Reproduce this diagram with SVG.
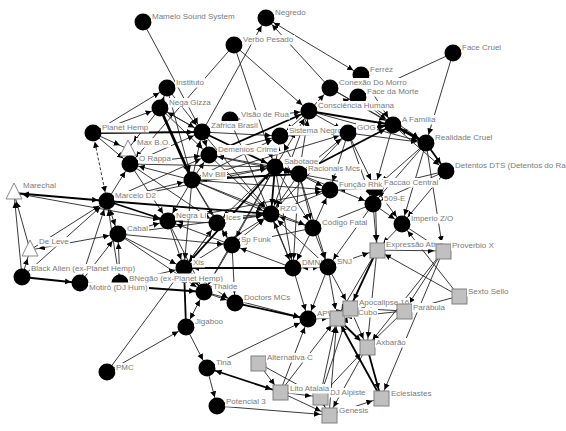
<svg xmlns="http://www.w3.org/2000/svg" width="566" height="431" viewBox="0 0 566 431">
<style>
.e{stroke:#222;stroke-width:0.9;fill:none;marker-end:url(#a)}
.b{marker-start:url(#a)}
.m{stroke:#000;stroke-width:1.8}
.k{stroke:#000;stroke-width:2.8}
.d{stroke-dasharray:3 2}
.c{fill:#000}
.s{fill:#c0c0c0;stroke:#808080;stroke-width:1}
.t{fill:#fff;stroke:#888;stroke-width:1}
.lb{fill:#fff}
text{font-family:"Liberation Sans",Arial,sans-serif;font-size:8px;fill:#7a7a7a}
</style>
<defs>
<marker id="a" markerWidth="20" markerHeight="8" refX="15" refY="3" orient="auto-start-reverse" markerUnits="userSpaceOnUse"><path d="M0,0L6,3L0,6z" fill="#000"/></marker>
</defs>
<rect width="566" height="431" fill="#fff"/>
<g id="edges">
<line class="e" x1="143" y1="22" x2="202" y2="132"/>
<line class="e" x1="330" y1="88" x2="266" y2="18"/>
<line class="e" x1="202" y1="132" x2="266" y2="18"/>
<line class="e" x1="234" y1="45" x2="130" y2="164"/>
<line class="e" x1="234" y1="45" x2="275" y2="167"/>
<line class="e" x1="234" y1="45" x2="309" y2="111"/>
<line class="e" x1="453" y1="53" x2="426" y2="143"/>
<line class="e" x1="453" y1="53" x2="358" y2="97"/>
<line class="e" x1="93" y1="133" x2="167" y2="88"/>
<line class="e" x1="93" y1="133" x2="128" y2="149"/>
<line class="e" x1="160" y1="108" x2="128" y2="149"/>
<line class="e" x1="93" y1="133" x2="160" y2="108"/>
<line class="e b" x1="14" y1="193" x2="168" y2="221"/>
<line class="e" x1="22" y1="277" x2="14" y2="193"/>
<line class="e" x1="22" y1="277" x2="30" y2="250"/>
<line class="e" x1="30" y1="250" x2="14" y2="193"/>
<line class="e" x1="30" y1="250" x2="107" y2="201"/>
<line class="e b" x1="118" y1="234" x2="30" y2="250"/>
<line class="e" x1="22" y1="277" x2="107" y2="201"/>
<line class="e" x1="80" y1="283" x2="107" y2="201"/>
<line class="e" x1="80" y1="283" x2="118" y2="234"/>
<line class="e" x1="120" y1="283" x2="107" y2="201"/>
<line class="e" x1="120" y1="283" x2="118" y2="234"/>
<line class="e" x1="120" y1="283" x2="184" y2="268"/>
<line class="e b" x1="118" y1="234" x2="107" y2="201"/>
<line class="e" x1="107" y1="201" x2="130" y2="164"/>
<line class="e" x1="107" y1="201" x2="192" y2="180"/>
<line class="e" x1="107" y1="201" x2="209" y2="155"/>
<line class="e" x1="107" y1="201" x2="275" y2="167"/>
<line class="e" x1="118" y1="234" x2="184" y2="268"/>
<line class="e" x1="118" y1="234" x2="168" y2="221"/>
<line class="e" x1="118" y1="234" x2="204" y2="292"/>
<line class="e" x1="118" y1="234" x2="232" y2="245"/>
<line class="e" x1="118" y1="234" x2="271" y2="214"/>
<line class="e" x1="107" y1="372" x2="186" y2="327"/>
<line class="e" x1="107" y1="372" x2="217" y2="223"/>
<line class="e b" x1="186" y1="327" x2="204" y2="292"/>
<line class="e" x1="186" y1="327" x2="207" y2="368"/>
<line class="e" x1="207" y1="368" x2="217" y2="406"/>
<line class="e" x1="207" y1="368" x2="308" y2="319"/>
<line class="e" x1="217" y1="406" x2="329" y2="415"/>
<line class="e" x1="258" y1="363" x2="280" y2="392"/>
<line class="e" x1="280" y1="392" x2="329" y2="415"/>
<line class="e" x1="280" y1="392" x2="320" y2="397"/>
<line class="e" x1="320" y1="397" x2="329" y2="415"/>
<line class="e" x1="280" y1="392" x2="308" y2="319"/>
<line class="e" x1="258" y1="363" x2="320" y2="397"/>
<line class="e" x1="459" y1="296" x2="404" y2="311"/>
<line class="e" x1="459" y1="296" x2="402" y2="224"/>
<line class="e" x1="459" y1="296" x2="377" y2="250"/>
<line class="e" x1="377" y1="250" x2="443" y2="251"/>
<line class="e" x1="426" y1="143" x2="443" y2="251"/>
<line class="e" x1="402" y1="224" x2="443" y2="251"/>
<line class="e" x1="443" y1="251" x2="381" y2="398"/>
<line class="e" x1="443" y1="251" x2="404" y2="311"/>
<line class="e" x1="443" y1="251" x2="367" y2="347"/>
<line class="e b" x1="350" y1="308" x2="337" y2="318"/>
<line class="e" x1="350" y1="308" x2="367" y2="347"/>
<line class="e" x1="367" y1="347" x2="329" y2="415"/>
<line class="e" x1="320" y1="397" x2="350" y2="308"/>
<line class="e" x1="320" y1="397" x2="337" y2="318"/>
<line class="e" x1="329" y1="415" x2="337" y2="318"/>
<line class="e" x1="280" y1="392" x2="337" y2="318"/>
<line class="e" x1="404" y1="311" x2="337" y2="318"/>
<line class="e" x1="404" y1="311" x2="350" y2="308"/>
<line class="e" x1="404" y1="311" x2="367" y2="347"/>
<line class="e" x1="377" y1="250" x2="337" y2="318"/>
<line class="e" x1="377" y1="250" x2="367" y2="347"/>
<line class="e" x1="308" y1="319" x2="337" y2="318"/>
<line class="e" x1="328" y1="267" x2="377" y2="250"/>
<line class="e" x1="328" y1="267" x2="350" y2="308"/>
<line class="e" x1="328" y1="267" x2="308" y2="319"/>
<line class="e" x1="328" y1="267" x2="337" y2="318"/>
<line class="e" x1="293" y1="268" x2="308" y2="319"/>
<line class="e" x1="329" y1="415" x2="381" y2="398"/>
<line class="e" x1="320" y1="397" x2="367" y2="347"/>
<line class="e b" x1="308" y1="319" x2="350" y2="308"/>
<line class="e" x1="204" y1="292" x2="308" y2="319"/>
<line class="e" x1="299" y1="174" x2="271" y2="214"/>
<line class="e" x1="192" y1="180" x2="271" y2="214"/>
<line class="e" x1="168" y1="221" x2="271" y2="214"/>
<line class="e" x1="217" y1="223" x2="271" y2="214"/>
<line class="e" x1="232" y1="245" x2="271" y2="214"/>
<line class="e" x1="313" y1="228" x2="271" y2="214"/>
<line class="e" x1="293" y1="268" x2="271" y2="214"/>
<line class="e" x1="328" y1="267" x2="271" y2="214"/>
<line class="e" x1="184" y1="268" x2="271" y2="214"/>
<line class="e" x1="209" y1="155" x2="271" y2="214"/>
<line class="e" x1="202" y1="132" x2="271" y2="214"/>
<line class="e" x1="348" y1="133" x2="271" y2="214"/>
<line class="e" x1="330" y1="190" x2="271" y2="214"/>
<line class="e" x1="309" y1="111" x2="271" y2="214"/>
<line class="e" x1="275" y1="167" x2="192" y2="180"/>
<line class="e" x1="275" y1="167" x2="209" y2="155"/>
<line class="e" x1="275" y1="167" x2="280" y2="136"/>
<line class="e" x1="275" y1="167" x2="309" y2="111"/>
<line class="e" x1="275" y1="167" x2="293" y2="268"/>
<line class="e" x1="275" y1="167" x2="217" y2="223"/>
<line class="e" x1="275" y1="167" x2="232" y2="245"/>
<line class="e" x1="275" y1="167" x2="313" y2="228"/>
<line class="e" x1="275" y1="167" x2="204" y2="292"/>
<line class="e" x1="299" y1="174" x2="330" y2="190"/>
<line class="e" x1="299" y1="174" x2="375" y2="188"/>
<line class="e" x1="299" y1="174" x2="348" y2="133"/>
<line class="e" x1="299" y1="174" x2="309" y2="111"/>
<line class="e" x1="299" y1="174" x2="280" y2="136"/>
<line class="e" x1="299" y1="174" x2="293" y2="268"/>
<line class="e" x1="299" y1="174" x2="328" y2="267"/>
<line class="e" x1="299" y1="174" x2="373" y2="204"/>
<line class="e" x1="299" y1="174" x2="313" y2="228"/>
<line class="e" x1="192" y1="180" x2="209" y2="155"/>
<line class="e" x1="192" y1="180" x2="202" y2="132"/>
<line class="e" x1="192" y1="180" x2="130" y2="164"/>
<line class="e" x1="192" y1="180" x2="184" y2="268"/>
<line class="e" x1="192" y1="180" x2="168" y2="221"/>
<line class="e" x1="192" y1="180" x2="217" y2="223"/>
<line class="e" x1="192" y1="180" x2="232" y2="245"/>
<line class="e" x1="192" y1="180" x2="313" y2="228"/>
<line class="e" x1="192" y1="180" x2="330" y2="190"/>
<line class="e" x1="192" y1="180" x2="280" y2="136"/>
<line class="e" x1="192" y1="180" x2="348" y2="133"/>
<line class="e" x1="202" y1="132" x2="230" y2="120"/>
<line class="e" x1="202" y1="132" x2="209" y2="155"/>
<line class="e" x1="202" y1="132" x2="280" y2="136"/>
<line class="e" x1="202" y1="132" x2="160" y2="108"/>
<line class="e" x1="309" y1="111" x2="348" y2="133"/>
<line class="e" x1="309" y1="111" x2="280" y2="136"/>
<line class="e" x1="309" y1="111" x2="426" y2="143"/>
<line class="e" x1="309" y1="111" x2="358" y2="97"/>
<line class="e" x1="309" y1="111" x2="330" y2="88"/>
<line class="e" x1="348" y1="133" x2="393" y2="125"/>
<line class="e" x1="348" y1="133" x2="426" y2="143"/>
<line class="e" x1="348" y1="133" x2="330" y2="190"/>
<line class="e" x1="348" y1="133" x2="375" y2="188"/>
<line class="e" x1="348" y1="133" x2="373" y2="204"/>
<line class="e" x1="348" y1="133" x2="280" y2="136"/>
<line class="e" x1="393" y1="125" x2="375" y2="188"/>
<line class="e" x1="393" y1="125" x2="446" y2="171"/>
<line class="e" x1="426" y1="143" x2="375" y2="188"/>
<line class="e" x1="426" y1="143" x2="402" y2="224"/>
<line class="e" x1="426" y1="143" x2="373" y2="204"/>
<line class="e" x1="446" y1="171" x2="375" y2="188"/>
<line class="e" x1="446" y1="171" x2="373" y2="204"/>
<line class="e" x1="446" y1="171" x2="402" y2="224"/>
<line class="e" x1="375" y1="188" x2="373" y2="204"/>
<line class="e" x1="375" y1="188" x2="330" y2="190"/>
<line class="e" x1="375" y1="188" x2="402" y2="224"/>
<line class="e" x1="375" y1="188" x2="377" y2="250"/>
<line class="e" x1="373" y1="204" x2="377" y2="250"/>
<line class="e" x1="373" y1="204" x2="402" y2="224"/>
<line class="e" x1="373" y1="204" x2="313" y2="228"/>
<line class="e" x1="373" y1="204" x2="328" y2="267"/>
<line class="e" x1="313" y1="228" x2="328" y2="267"/>
<line class="e" x1="313" y1="228" x2="293" y2="268"/>
<line class="e" x1="313" y1="228" x2="330" y2="190"/>
<line class="e" x1="313" y1="228" x2="232" y2="245"/>
<line class="e b" x1="293" y1="268" x2="328" y2="267"/>
<line class="e" x1="293" y1="268" x2="232" y2="245"/>
<line class="e" x1="232" y1="245" x2="217" y2="223"/>
<line class="e" x1="232" y1="245" x2="168" y2="221"/>
<line class="e" x1="232" y1="245" x2="204" y2="292"/>
<line class="e" x1="232" y1="245" x2="235" y2="303"/>
<line class="e" x1="217" y1="223" x2="168" y2="221"/>
<line class="e" x1="217" y1="223" x2="184" y2="268"/>
<line class="e" x1="168" y1="221" x2="184" y2="268"/>
<line class="e" x1="168" y1="221" x2="204" y2="292"/>
<line class="e" x1="168" y1="221" x2="330" y2="190"/>
<line class="e" x1="184" y1="268" x2="235" y2="303"/>
<line class="e" x1="204" y1="292" x2="235" y2="303"/>
<line class="e" x1="130" y1="164" x2="209" y2="155"/>
<line class="e" x1="130" y1="164" x2="202" y2="132"/>
<line class="e" x1="130" y1="164" x2="217" y2="223"/>
<line class="e" x1="130" y1="164" x2="168" y2="221"/>
<line class="e" x1="130" y1="164" x2="128" y2="149"/>
<line class="e" x1="130" y1="164" x2="275" y2="167"/>
<line class="e" x1="93" y1="133" x2="130" y2="164"/>
<line class="e" x1="167" y1="88" x2="192" y2="180"/>
<line class="e" x1="167" y1="88" x2="202" y2="132"/>
<line class="e" x1="160" y1="108" x2="202" y2="132"/>
<line class="e" x1="160" y1="108" x2="209" y2="155"/>
<line class="e" x1="160" y1="108" x2="167" y2="88"/>
<line class="e" x1="230" y1="120" x2="309" y2="111"/>
<line class="e" x1="230" y1="120" x2="293" y2="268"/>
<line class="e" x1="209" y1="155" x2="280" y2="136"/>
<line class="e" x1="209" y1="155" x2="299" y2="174"/>
<line class="e" x1="358" y1="97" x2="393" y2="125"/>
<line class="e" x1="330" y1="88" x2="393" y2="125"/>
<line class="e" x1="330" y1="88" x2="426" y2="143"/>
<line class="e" x1="358" y1="97" x2="426" y2="143"/>
<line class="e" x1="361" y1="75" x2="393" y2="125"/>
<line class="e" x1="402" y1="224" x2="377" y2="250"/>
<line class="e b" x1="361" y1="75" x2="266" y2="18"/>
<line class="e b d" x1="93" y1="133" x2="107" y2="201"/>
<line class="e m" x1="93" y1="133" x2="202" y2="132"/>
<line class="e m b" x1="14" y1="193" x2="107" y2="201"/>
<line class="e m" x1="22" y1="277" x2="80" y2="283"/>
<line class="e m" x1="80" y1="283" x2="204" y2="292"/>
<line class="e m" x1="107" y1="201" x2="168" y2="221"/>
<line class="e m" x1="107" y1="201" x2="271" y2="214"/>
<line class="e m" x1="186" y1="327" x2="184" y2="268"/>
<line class="e m" x1="235" y1="303" x2="308" y2="319"/>
<line class="e m b" x1="207" y1="368" x2="280" y2="392"/>
<line class="e m" x1="337" y1="318" x2="367" y2="347"/>
<line class="e m" x1="367" y1="347" x2="381" y2="398"/>
<line class="e m" x1="381" y1="398" x2="337" y2="318"/>
<line class="e m" x1="377" y1="250" x2="350" y2="308"/>
<line class="e m" x1="275" y1="167" x2="271" y2="214"/>
<line class="e m" x1="202" y1="132" x2="275" y2="167"/>
<line class="e m" x1="184" y1="268" x2="275" y2="167"/>
<line class="e m" x1="299" y1="174" x2="192" y2="180"/>
<line class="e m" x1="299" y1="174" x2="393" y2="125"/>
<line class="e m" x1="280" y1="136" x2="393" y2="125"/>
<line class="e m" x1="209" y1="155" x2="309" y2="111"/>
<line class="e m" x1="309" y1="111" x2="393" y2="125"/>
<line class="e m" x1="426" y1="143" x2="446" y2="171"/>
<line class="e m" x1="293" y1="268" x2="184" y2="268"/>
<line class="e m b" x1="184" y1="268" x2="204" y2="292"/>
<line class="e k" x1="160" y1="108" x2="192" y2="180"/>
<line class="e k b" x1="299" y1="174" x2="275" y2="167"/>
<line class="e k b" x1="393" y1="125" x2="426" y2="143"/>
</g>
<g id="n-mam"><circle class="c" cx="143" cy="22" r="8.5"/><rect class="lb" x="151" y="12" width="85" height="9.5"/><text x="152" y="19">Mamelo Sound System</text></g>
<g id="n-neg"><circle class="c" cx="266" cy="18" r="8.5"/><rect class="lb" x="274" y="8" width="33" height="9.5"/><text x="275" y="15">Negredo</text></g>
<g id="n-ver"><circle class="c" cx="234" cy="45" r="8.5"/><rect class="lb" x="242" y="35" width="53" height="9.5"/><text x="243" y="42">Verbo Pesado</text></g>
<g id="n-fcr"><circle class="c" cx="453" cy="53" r="8.5"/><rect class="lb" x="461" y="43" width="41" height="9.5"/><text x="462" y="50">Face Cruel</text></g>
<g id="n-fer"><circle class="c" cx="361" cy="75" r="8.5"/><rect class="lb" x="369" y="65" width="25" height="9.5"/><text x="370" y="72">Ferréz</text></g>
<g id="n-con"><circle class="c" cx="330" cy="88" r="8.5"/><rect class="lb" x="338" y="78" width="70" height="9.5"/><text x="339" y="85">Conexão Do Morro</text></g>
<g id="n-fdm"><circle class="c" cx="358" cy="97" r="8.5"/><rect class="lb" x="366" y="87" width="54" height="9.5"/><text x="367" y="94">Face da Morte</text></g>
<g id="n-ins"><circle class="c" cx="167" cy="88" r="8.5"/><rect class="lb" x="175" y="78" width="30" height="9.5"/><text x="176" y="85">Instituto</text></g>
<g id="n-nga"><circle class="c" cx="160" cy="108" r="8.5"/><rect class="lb" x="168" y="98" width="44" height="9.5"/><text x="169" y="105">Nega Gizza</text></g>
<g id="n-pla"><circle class="c" cx="93" cy="133" r="8.5"/><rect class="lb" x="101" y="123" width="48" height="9.5"/><text x="102" y="130">Planet Hemp</text></g>
<g id="n-vis"><circle class="c" cx="230" cy="120" r="8.5"/><rect class="lb" x="240" y="110" width="50" height="9.5"/><text x="241" y="117">Visão de Rua</text></g>
<g id="n-csc"><circle class="c" cx="309" cy="111" r="8.5"/><rect class="lb" x="317" y="101" width="78" height="9.5"/><text x="318" y="108">Consciência Humana</text></g>
<g id="n-afa"><circle class="c" cx="393" cy="125" r="8.5"/><rect class="lb" x="401" y="115" width="36" height="9.5"/><text x="402" y="122">A Família</text></g>
<g id="n-rea"><circle class="c" cx="426" cy="143" r="8.5"/><rect class="lb" x="434" y="133" width="59" height="9.5"/><text x="435" y="140">Realidade Cruel</text></g>
<g id="n-zaf"><circle class="c" cx="202" cy="132" r="8.5"/><rect class="lb" x="210" y="121" width="49" height="9.5"/><text x="211" y="128">Záfrica Brasil</text></g>
<g id="n-sis"><circle class="c" cx="280" cy="136" r="8.5"/><rect class="lb" x="288" y="126" width="55" height="9.5"/><text x="289" y="133">Sistema Negro</text></g>
<g id="n-gog"><circle class="c" cx="348" cy="133" r="8.5"/><rect class="lb" x="356" y="123" width="21" height="9.5"/><text x="357" y="130">GOG</text></g>
<g id="n-dem"><circle class="c" cx="209" cy="155" r="8.5"/><rect class="lb" x="217" y="145" width="62" height="9.5"/><text x="218" y="152">Demenios Crime</text></g>
<g id="n-max"><polygon class="t" points="128,140 120,156 136,156"/><rect class="lb" x="136" y="138" width="35" height="9.5"/><text x="137" y="145">Max B.O.</text></g>
<g id="n-rap"><circle class="c" cx="130" cy="164" r="8.5"/><rect class="lb" x="138" y="154" width="34" height="9.5"/><text x="139" y="161">O Rappa</text></g>
<g id="n-mcd"><circle class="c" cx="107" cy="201" r="8.5"/><rect class="lb" x="114" y="191" width="43" height="9.5"/><text x="115" y="198">Marcelo D2</text></g>
<g id="n-sab"><circle class="c" cx="275" cy="167" r="8.5"/><rect class="lb" x="283" y="157" width="36" height="9.5"/><text x="284" y="164">Sabotage</text></g>
<g id="n-rac"><circle class="c" cx="299" cy="174" r="8.5"/><rect class="lb" x="307" y="164" width="54" height="9.5"/><text x="308" y="171">Racionais Mcs</text></g>
<g id="n-mvb"><circle class="c" cx="192" cy="180" r="8.5"/><rect class="lb" x="201" y="170" width="26" height="9.5"/><text x="202" y="177">Mv Bill</text></g>
<g id="n-fac"><circle class="c" cx="375" cy="188" r="8.5"/><rect class="lb" x="383" y="178" width="56" height="9.5"/><text x="384" y="185">Faccao Central</text></g>
<g id="n-fun"><circle class="c" cx="330" cy="190" r="8.5"/><rect class="lb" x="338" y="180" width="45" height="9.5"/><text x="339" y="187">Função Rhk</text></g>
<g id="n-e509"><circle class="c" cx="373" cy="204" r="8.5"/><rect class="lb" x="383" y="194" width="23" height="9.5"/><text x="384" y="201">509-E</text></g>
<g id="n-det"><circle class="c" cx="446" cy="171" r="8.5"/><rect class="lb" x="454" y="161" width="112" height="9.5"/><text x="455" y="168">Detentos DTS (Detentos do Ra</text></g>
<g id="n-imp"><circle class="c" cx="402" cy="224" r="8.5"/><rect class="lb" x="410" y="214" width="44" height="9.5"/><text x="411" y="221">Imperio Z/O</text></g>
<g id="n-mar"><polygon class="t" points="14,183 6,199 22,199"/><rect class="lb" x="22" y="181" width="35" height="9.5"/><text x="23" y="188">Marechal</text></g>
<g id="n-dle"><polygon class="t" points="30,240 22,256 38,256"/><rect class="lb" x="38" y="237" width="32" height="9.5"/><text x="39" y="244">De Leve</text></g>
<g id="n-cab"><circle class="c" cx="118" cy="234" r="8.5"/><rect class="lb" x="126" y="224" width="23" height="9.5"/><text x="127" y="231">Cabal</text></g>
<g id="n-nli"><circle class="c" cx="168" cy="221" r="8.5"/><rect class="lb" x="175" y="211" width="32" height="9.5"/><text x="176" y="218">Negra Li</text></g>
<g id="n-ees"><circle class="c" cx="217" cy="223" r="8.5"/><rect class="lb" x="225" y="213" width="18" height="9.5"/><text x="226" y="220">Ices</text></g>
<g id="n-spf"><circle class="c" cx="232" cy="245" r="8.5"/><rect class="lb" x="240" y="235" width="32" height="9.5"/><text x="241" y="242">Sp Funk</text></g>
<g id="n-rzo"><circle class="c" cx="271" cy="214" r="8.5"/><rect class="lb" x="279" y="204" width="19" height="9.5"/><text x="280" y="211">RZO</text></g>
<g id="n-cod"><circle class="c" cx="313" cy="228" r="8.5"/><rect class="lb" x="321" y="218" width="47" height="9.5"/><text x="322" y="225">Código Fatal</text></g>
<g id="n-dmn"><circle class="c" cx="293" cy="268" r="8.5"/><rect class="lb" x="301" y="258" width="20" height="9.5"/><text x="302" y="265">DMN</text></g>
<g id="n-snj"><circle class="c" cx="328" cy="267" r="8.5"/><rect class="lb" x="336" y="257" width="17" height="9.5"/><text x="337" y="264">SNJ</text></g>
<g id="n-xis"><circle class="c" cx="184" cy="268" r="8.5"/><rect class="lb" x="192" y="258" width="13" height="9.5"/><text x="193" y="265">Xis</text></g>
<g id="n-bla"><circle class="c" cx="22" cy="277" r="8.5"/><rect class="lb" x="30" y="264" width="106" height="9.5"/><text x="31" y="271">Black Alien (ex-Planet Hemp)</text></g>
<g id="n-bne"><circle class="c" cx="120" cy="283" r="8.5"/><rect class="lb" x="128" y="273.5" width="96" height="9"/><text x="129" y="280.5">BNegão (ex-Planet Hemp)</text></g>
<g id="n-mot"><circle class="c" cx="80" cy="283" r="8.5"/><rect class="lb" x="88" y="282.5" width="61" height="9.5"/><text x="89" y="289.5">Motirô (DJ Hum)</text></g>
<g id="n-tha"><circle class="c" cx="204" cy="292" r="8.5"/><rect class="lb" x="212" y="282" width="27" height="9.5"/><text x="213" y="289">Thaide</text></g>
<g id="n-doc"><circle class="c" cx="235" cy="303" r="8.5"/><rect class="lb" x="243" y="293" width="48" height="9.5"/><text x="244" y="300">Doctors MCs</text></g>
<g id="n-jig"><circle class="c" cx="186" cy="327" r="8.5"/><rect class="lb" x="194" y="317" width="30" height="9.5"/><text x="195" y="324">Jigaboo</text></g>
<g id="n-apw"><circle class="c" cx="308" cy="319" r="8.5"/><rect class="lb" x="316" y="309" width="20" height="9.5"/><text x="317" y="316">APW</text></g>
<g id="n-tin"><circle class="c" cx="207" cy="368" r="8.5"/><rect class="lb" x="215" y="358" width="18" height="9.5"/><text x="216" y="365">Tina</text></g>
<g id="n-pot"><circle class="c" cx="217" cy="406" r="8.5"/><rect class="lb" x="225" y="397" width="42" height="9.5"/><text x="226" y="404">Potencial 3</text></g>
<g id="n-pmc"><circle class="c" cx="107" cy="372" r="8.5"/><rect class="lb" x="115" y="363" width="20" height="9.5"/><text x="116" y="370">PMC</text></g>
<g id="n-exp"><rect class="s" x="370" y="243" width="15" height="15"/><rect class="lb" x="385" y="240" width="60" height="9.5"/><text x="386" y="247">Expressão Ativa</text></g>
<g id="n-pro"><rect class="s" x="436" y="244" width="15" height="15"/><rect class="lb" x="451" y="241" width="44" height="9.5"/><text x="452" y="248">Proverbio X</text></g>
<g id="n-sex"><rect class="s" x="452" y="289" width="15" height="15"/><rect class="lb" x="467" y="287" width="43" height="9.5"/><text x="468" y="294">Sexto Sello</text></g>
<g id="n-aoc"><rect class="s" x="330" y="311" width="15" height="15"/><rect class="lb" x="345" y="308" width="33" height="9.5"/><text x="346" y="315">Ao Cubo</text></g>
<g id="n-apo"><rect class="s" x="343" y="301" width="15" height="15"/><rect class="lb" x="358" y="298" width="52" height="9.5"/><text x="359" y="305">Apocalipse 16</text></g>
<g id="n-par"><rect class="s" x="397" y="304" width="15" height="15"/><rect class="lb" x="412" y="303" width="34" height="9.5"/><text x="413" y="310">Parábula</text></g>
<g id="n-xba"><rect class="s" x="360" y="340" width="15" height="15"/><rect class="lb" x="375" y="338" width="32" height="9.5"/><text x="376" y="345">Axbarão</text></g>
<g id="n-alt"><rect class="s" x="251" y="356" width="15" height="15"/><rect class="lb" x="266" y="353" width="48" height="9.5"/><text x="267" y="360">Alternativa C</text></g>
<g id="n-dja"><rect class="s" x="313" y="390" width="15" height="15"/><rect class="lb" x="329" y="388" width="38" height="9.5"/><text x="330" y="395">DJ Alpiste</text></g>
<g id="n-lit"><rect class="s" x="273" y="385" width="15" height="15"/><rect class="lb" x="289" y="384" width="42" height="9.5"/><text x="290" y="391">Lito Atalaia</text></g>
<g id="n-gen"><rect class="s" x="322" y="408" width="15" height="15"/><rect class="lb" x="338" y="406" width="31" height="9.5"/><text x="339" y="413">Genesis</text></g>
<g id="n-ecl"><rect class="s" x="374" y="391" width="15" height="15"/><rect class="lb" x="390" y="389" width="43" height="9.5"/><text x="391" y="396">Eclesiastes</text></g>
</svg>
